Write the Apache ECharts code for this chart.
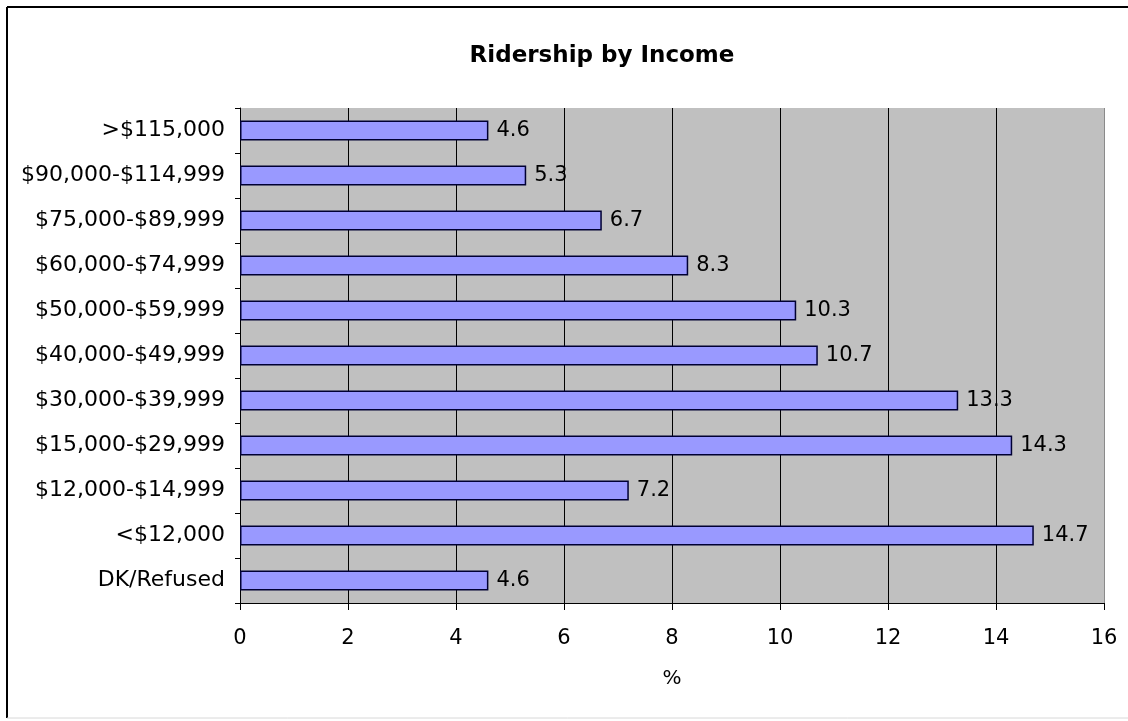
<!DOCTYPE html>
<html>
<head>
<meta charset="utf-8">
<script src="https://cdn.jsdelivr.net/npm/echarts@6/dist/echarts.min.js"></script>
<style>
  html, body { margin: 0; padding: 0; background: #fff; }
  #chart { width: 1128px; height: 721px; }
</style>
</head>
<body>
<div id="chart"></div>
<script>
  // categories, bottom to top
  const categories = ['DK/Refused', '<$12,000', '$12,000-$14,999', '$15,000-$29,999', '$30,000-$39,999',
    '$40,000-$49,999', '$50,000-$59,999', '$60,000-$74,999', '$75,000-$89,999', '$90,000-$114,999', '>$115,000']
  const values = [4.6, 14.7, 7.2, 14.3, 13.3, 10.7, 10.3, 8.3, 6.7, 5.3, 4.6]
  const xTicks = [0, 16, 2]   // min, max, interval

  const mChart = echarts.init(document.getElementById('chart'))
  const font = '"DejaVu Sans", Arial, sans-serif'

  // grid lines: last one (x = 16) is lighter in the original
  const gridColors = ['#000', '#000', '#000', '#000', '#000', '#000', '#000', '#000', '#8a8a8a']

  const option = {
    animation: false,
    backgroundColor: '#fff',
    title: {
      text: 'Ridership by Income',
      left: 597,
      top: 40,
      textAlign: 'center',
      textStyle: { fontFamily: font, fontSize: 23, fontWeight: 'bold', color: '#000' }
    },
    grid: {
      left: 240,
      top: 108,
      width: 864,
      height: 495,
      show: true,
      backgroundColor: '#c0c0c0',
      borderWidth: 0
    },
    xAxis: {
      type: 'value',
      min: xTicks[0],
      max: xTicks[1],
      interval: xTicks[2],
      name: '%',
      nameLocation: 'middle',
      nameGap: 66,
      nameTextStyle: { fontFamily: font, fontSize: 20, color: '#000' },
      axisLine: { show: true, lineStyle: { color: '#000', width: 1 } },
      axisTick: { show: true, length: 7, lineStyle: { color: '#000' } },
      axisLabel: { fontFamily: font, fontSize: 21, color: '#000', margin: 25 },
      splitLine: { show: true, lineStyle: { color: gridColors, width: 1 } }
    },
    yAxis: {
      type: 'category',
      data: categories,
      axisLine: { show: true, lineStyle: { color: '#000', width: 1 } },
      axisTick: { show: true, length: 5, lineStyle: { color: '#000' } },
      axisLabel: { fontFamily: font, fontSize: 22, color: '#000', margin: 15 },
      splitLine: { show: false }
    },
    series: [{
      type: 'bar',
      data: values,
      barWidth: '44%',
      itemStyle: { color: '#9999ff', borderColor: '#000033', borderWidth: 1.5 },
      label: {
        show: true,
        position: 'right',
        distance: 8,
        fontFamily: font,
        fontSize: 21,
        color: '#000',
        formatter: p => p.value.toFixed(1)
      }
    }],
    graphic: [
      { type: 'line', shape: { x1: 7, y1: 7, x2: 1128, y2: 7 }, style: { stroke: '#000', lineWidth: 2 } },
      { type: 'line', shape: { x1: 7, y1: 7, x2: 7, y2: 718 }, style: { stroke: '#000', lineWidth: 2 } },
      { type: 'line', shape: { x1: 7, y1: 718, x2: 1128, y2: 718 }, style: { stroke: '#d8d8d8', lineWidth: 1 } },
      { type: 'line', shape: { x1: 1104.5, y1: 356, x2: 1104.5, y2: 603 }, style: { stroke: '#000', lineWidth: 1 } }
    ]
  }
  mChart.setOption(option)
  window.addEventListener('resize', function() {
    mChart.resize()
  })
</script>
</body>
</html>
